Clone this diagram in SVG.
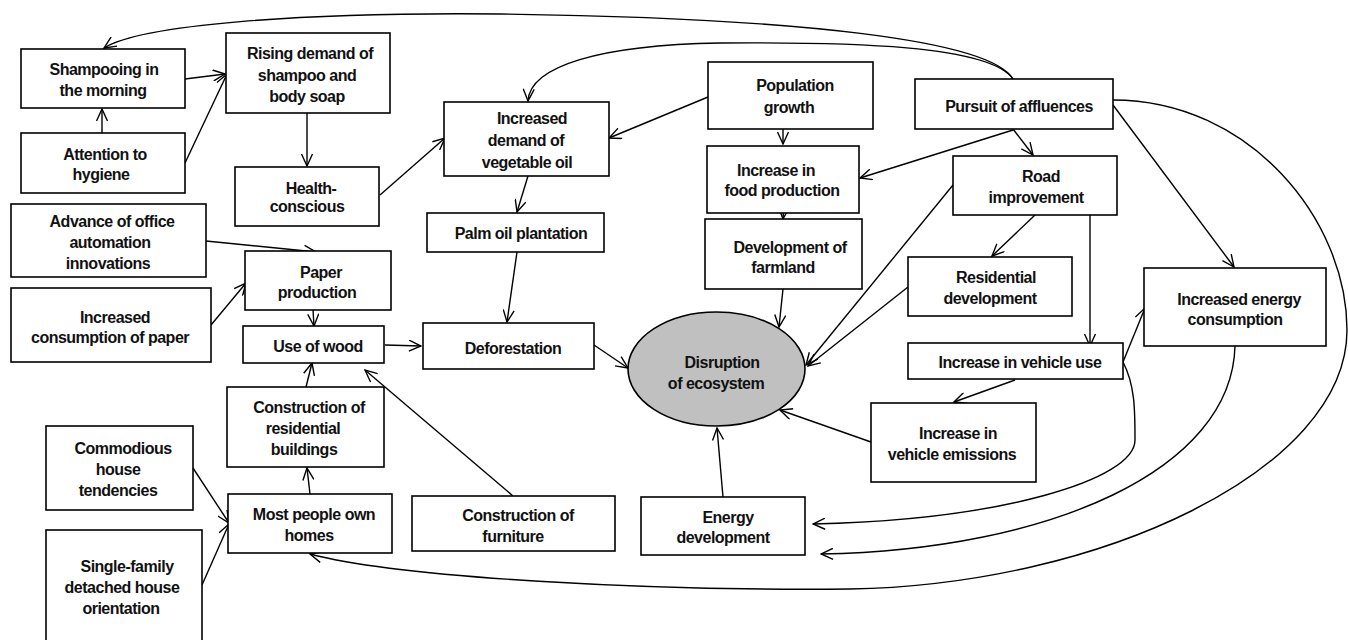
<svg xmlns="http://www.w3.org/2000/svg" width="1348" height="640" viewBox="0 0 1348 640">
  <defs>
    <marker id="arrow" markerUnits="userSpaceOnUse" markerWidth="14" markerHeight="12" viewBox="0 0 14 12" refX="13" refY="6" orient="auto">
      <path d="M1,0.5 L13,6 L1,11.5" fill="none" stroke="#000" stroke-width="1.4"/>
    </marker>
    <style>
      .box { fill: #fff; stroke: #000; stroke-width: 1.6; }
      .ell { fill: #c0c0c0; stroke: #000; stroke-width: 1.6; }
      .lbl { font-family: "Liberation Sans", Arial, sans-serif; font-size: 16px; font-weight: bold; letter-spacing: -0.5px; text-anchor: middle; fill: #111; }
      .edge { fill: none; stroke: #000; stroke-width: 1.4; marker-end: url(#arrow); }
      .line { fill: none; stroke: #000; stroke-width: 1.4; }
    </style>
  </defs>
  <rect width="1348" height="640" fill="#fff"/>

  <!-- connectors -->
  <g id="connectors">
    <!-- long arcs from pursuit of affluences -->
    <path class="edge" d="M1013,79 C990,40 800,18 500,14 C300,12 140,25 104,48"/>
    <path class="edge" d="M1013,79 C990,45 850,42 720,43 C600,45 530,66 528,101"/>
    <path class="edge" d="M1113,100 C1250,100 1347,220 1347,330 C1347,470 1100,585 850,589 C650,591 400,578 310,554"/>
    <path class="edge" d="M1013,129 L1033,155"/>
    <path class="edge" d="M1013,130 L860,178"/>
    <path class="edge" d="M1113,105 L1234,267"/>

    <!-- left cluster -->
    <path class="edge" d="M102,133 L102,109"/>
    <path class="edge" d="M185,163 L227,74"/>
    <path class="edge" d="M185,79 L225,74"/>
    <path class="edge" d="M307,113 L307,166"/>
    <path class="edge" d="M380,195 L445,138"/>
    <path class="edge" d="M206,241 L316,252"/>
    <path class="edge" d="M211,325 L246,283"/>
    <path class="edge" d="M313,310 L314,326"/>
    <path class="edge" d="M306,387 L312,363"/>
    <path class="edge" d="M513,496 L365,370"/>
    <path class="edge" d="M310,494 L307,468"/>
    <path class="edge" d="M193,468 L229,523"/>
    <path class="edge" d="M202,585 L229,524"/>
    <path class="edge" d="M385,345 L421,346"/>

    <!-- centre -->
    <path class="edge" d="M708,97 L609,138"/>
    <path class="edge" d="M528,176 L517,212"/>
    <path class="edge" d="M517,252 L507,322"/>
    <path class="edge" d="M594,345 L628,368"/>
    <path class="edge" d="M783,129 L783,144"/>
    <path class="edge" d="M784,205 L783,219"/>
    <path class="edge" d="M783,289 L779,327"/>
    <path class="edge" d="M953,185 L806,365"/>
    <path class="edge" d="M908,287 L808,366"/>
    <path class="edge" d="M871,442 L780,410"/>
    <path class="edge" d="M723,497 L717,428"/>

    <!-- right cluster -->
    <path class="edge" d="M1035,215 L992,256"/>
    <path class="edge" d="M1090,199 L1090,346"/>
    <path class="edge" d="M1015,380 L954,402"/>
    <path class="edge" d="M1123,362 L1145,308"/>
    <path class="edge" d="M1123,362 C1135,385 1135,410 1135,440 C1135,480 1000,520 813,524"/>
    <path class="edge" d="M1235,346 C1232,470 1050,550 821,554"/>
  </g>

  <!-- nodes -->
  <g id="n-shampooing"><rect class="box" x="21" y="49" width="164" height="59"/><text class="lbl" x="104" y="75">Shampooing in</text><text class="lbl" x="103" y="96">the morning</text></g>
  <g id="n-rising-demand"><rect class="box" x="226" y="33" width="164" height="80"/><text class="lbl" x="310" y="59">Rising demand of</text><text class="lbl" x="307" y="80.5">shampoo and</text><text class="lbl" x="307" y="102">body soap</text></g>
  <g id="n-hygiene"><rect class="box" x="21" y="133" width="164" height="60"/><text class="lbl" x="105" y="160">Attention to</text><text class="lbl" x="101" y="180">hygiene</text></g>
  <g id="n-health"><rect class="box" x="235" y="167" width="144" height="59"/><text class="lbl" x="311" y="194">Health-</text><text class="lbl" x="307" y="212">conscious</text></g>
  <g id="n-office"><rect class="box" x="11" y="204" width="195" height="73"/><text class="lbl" x="112" y="227">Advance of office</text><text class="lbl" x="110" y="248">automation</text><text class="lbl" x="108" y="269">innovations</text></g>
  <g id="n-paper-consumption"><rect class="box" x="11" y="288" width="200" height="74"/><text class="lbl" x="115" y="323">Increased</text><text class="lbl" x="110" y="343">consumption of paper</text></g>
  <g id="n-paper-production"><rect class="box" x="245" y="251" width="146" height="59"/><text class="lbl" x="321" y="278">Paper</text><text class="lbl" x="317" y="298">production</text></g>
  <g id="n-wood"><rect class="box" x="243" y="326" width="141" height="37"/><text class="lbl" x="318" y="352">Use of wood</text></g>
  <g id="n-residential-buildings"><rect class="box" x="227" y="387" width="157" height="80"/><text class="lbl" x="309" y="413">Construction of</text><text class="lbl" x="303" y="434">residential</text><text class="lbl" x="304" y="455">buildings</text></g>
  <g id="n-own-homes"><rect class="box" x="228" y="494" width="164" height="59"/><text class="lbl" x="314" y="520">Most people own</text><text class="lbl" x="309" y="541">homes</text></g>
  <g id="n-commodious"><rect class="box" x="46" y="426" width="147" height="84"/><text class="lbl" x="123" y="454">Commodious</text><text class="lbl" x="118" y="475">house</text><text class="lbl" x="118" y="496">tendencies</text></g>
  <g id="n-single-family"><rect class="box" x="46" y="530" width="156" height="120"/><text class="lbl" x="127" y="572">Single-family</text><text class="lbl" x="122" y="593">detached house</text><text class="lbl" x="121" y="614">orientation</text></g>
  <g id="n-vegetable-oil"><rect class="box" x="444" y="102" width="165" height="74"/><text class="lbl" x="532" y="124">Increased</text><text class="lbl" x="526" y="146">demand of</text><text class="lbl" x="527" y="168">vegetable oil</text></g>
  <g id="n-palm-oil"><rect class="box" x="427" y="213" width="177" height="39"/><text class="lbl" x="521" y="239">Palm oil plantation</text></g>
  <g id="n-deforestation"><rect class="box" x="423" y="323" width="171" height="46"/><text class="lbl" x="513" y="354">Deforestation</text></g>
  <g id="n-population"><rect class="box" x="708" y="62" width="165" height="67"/><text class="lbl" x="795" y="91">Population</text><text class="lbl" x="789" y="113">growth</text></g>
  <g id="n-food"><rect class="box" x="707" y="146" width="152" height="67"/><text class="lbl" x="776" y="176">Increase in</text><text class="lbl" x="782" y="196">food production</text></g>
  <g id="n-farmland"><rect class="box" x="705" y="219" width="157" height="70"/><text class="lbl" x="790" y="253">Development of</text><text class="lbl" x="783" y="273">farmland</text></g>
  <g id="n-affluence"><rect class="box" x="915" y="79" width="198" height="50"/><text class="lbl" x="1019" y="112">Pursuit of affluences</text></g>
  <g id="n-road"><rect class="box" x="953" y="156" width="164" height="59"/><text class="lbl" x="1041" y="182">Road</text><text class="lbl" x="1036" y="203">improvement</text></g>
  <g id="n-residential-dev"><rect class="box" x="908" y="257" width="164" height="59"/><text class="lbl" x="996" y="283">Residential</text><text class="lbl" x="990" y="304">development</text></g>
  <g id="n-vehicle-use"><rect class="box" x="908" y="343" width="215" height="36"/><text class="lbl" x="1020" y="368">Increase in vehicle use</text></g>
  <g id="n-energy-consumption"><rect class="box" x="1144" y="268" width="182" height="78"/><text class="lbl" x="1239" y="305">Increased energy</text><text class="lbl" x="1235" y="325">consumption</text></g>
  <g id="n-emissions"><rect class="box" x="871" y="403" width="165" height="79"/><text class="lbl" x="958" y="439">Increase in</text><text class="lbl" x="952" y="460">vehicle emissions</text></g>
  <g id="n-furniture"><rect class="box" x="412" y="496" width="203" height="55"/><text class="lbl" x="518" y="521">Construction of</text><text class="lbl" x="513" y="542">furniture</text></g>
  <g id="n-energy-dev"><rect class="box" x="641" y="497" width="164" height="58"/><text class="lbl" x="728" y="523">Energy</text><text class="lbl" x="723" y="543">development</text></g>
  <g id="n-disruption"><ellipse class="ell" cx="716.5" cy="369" rx="88.5" ry="57"/><text class="lbl" x="722" y="368">Disruption</text><text class="lbl" x="716" y="389">of ecosystem</text></g>
</svg>
